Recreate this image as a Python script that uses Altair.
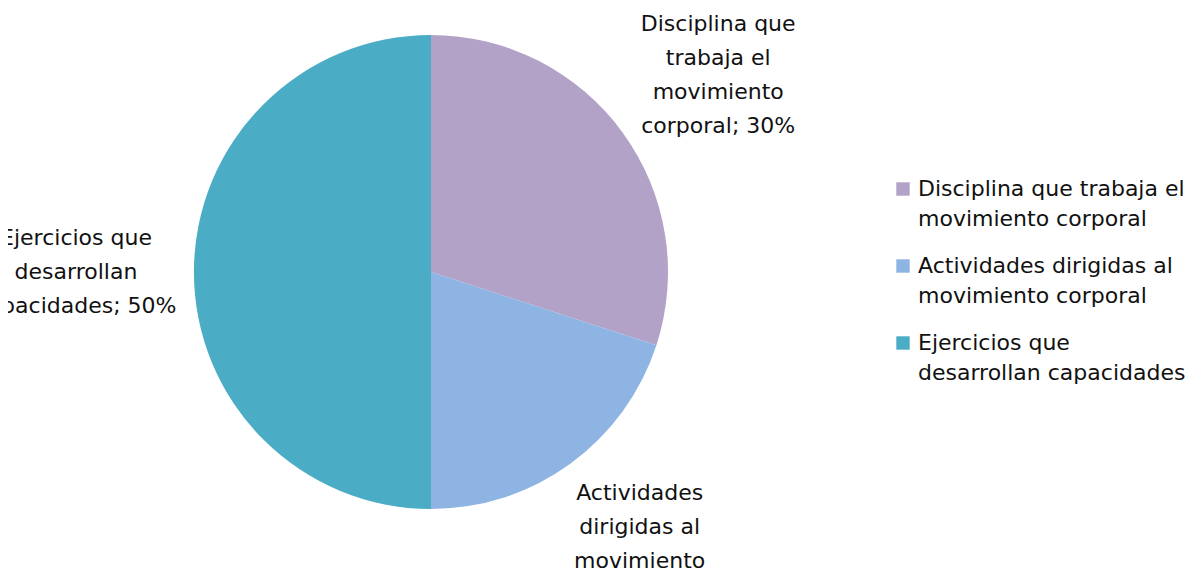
import altair as alt
import pandas as pd

categories = [
    "Disciplina que trabaja el\nmovimiento corporal",
    "Actividades dirigidas al\nmovimiento corporal",
    "Ejercicios que\ndesarrollan capacidades",
]
values = [30, 20, 50]
slice_labels = [
    "Disciplina que\ntrabaja el\nmovimiento\ncorporal; 30%",
    "Actividades\ndirigidas al\nmovimiento\ncorporal; 20%",
    "Ejercicios que\ndesarrollan\ncapacidades; 50%",
]
colors = ["#B3A2C7", "#8EB4E3", "#4BACC6"]

df = pd.DataFrame({
    "cat": categories,
    "val": values,
    "lab": slice_labels,
    "k": list(range(len(categories))),
})

FONT = "DejaVu Sans"
CX, CY = 423, 264   # pie centre inside the plot area
R_PIE = 237
RX_LAB, RY_LAB = 355, 336
LINE_H = 34

pie = alt.Chart(df).mark_arc(outerRadius=R_PIE).encode(
    theta=alt.Theta("val:Q", stack=True),
    order=alt.Order("k:O"),
    x=alt.value(CX),
    y=alt.value(CY),
    color=alt.Color(
        "cat:N",
        scale=alt.Scale(domain=categories, range=colors),
        sort=categories,
        legend=alt.Legend(
            title=None,
            orient="none",
            legendX=884,
            legendY=170,
            symbolType="square",
            symbolSize=180,
            symbolStrokeWidth=0,
            labelFont=FONT,
            labelFontSize=22,
            labelColor="#111111",
            labelOffset=4,
            labelLimit=400,
            rowPadding=25,
            labelExpr="split(datum.label, '\\n')",
        ),
    ),
)

labels = alt.Chart(df).transform_window(
    cum="sum(val)", sort=[alt.SortField("k")]
).transform_joinaggregate(
    tot="sum(val)"
).transform_calculate(
    mid="(datum.cum - datum.val / 2) / datum.tot * 2 * PI",
    nl="length(split(datum.lab, '\\n'))",
).transform_calculate(
    px=f"{CX} + {RX_LAB} * sin(datum.mid)",
    py=f"{CY} - {RY_LAB} * cos(datum.mid) - (datum.nl - 1) * {LINE_H} / 2",
).mark_text(
    font=FONT, fontSize=22, color="#111111", lineBreak="\n", lineHeight=LINE_H,
    align="center", baseline="middle",
).encode(
    x=alt.X("px:Q", scale=None, axis=None),
    y=alt.Y("py:Q", scale=None, axis=None),
    text="lab:N",
)

chart = (pie + labels).properties(
    width=1181, height=564,
    autosize=alt.AutoSizeParams(type="none"),
    padding=0,
).configure(
    style={"guide-label": {"lineHeight": 30}},
    view=alt.ViewConfig(stroke=None),
)

chart.save("out.html", embed_options={"renderer": "svg", "actions": False})
